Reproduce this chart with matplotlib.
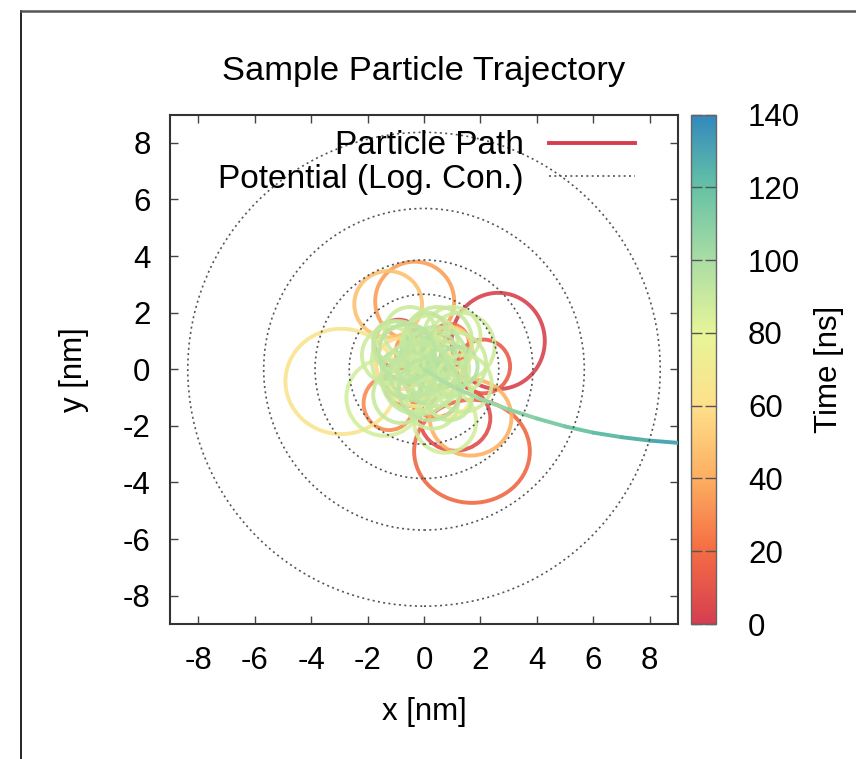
import numpy as np
import matplotlib
matplotlib.use("Agg")
import matplotlib.pyplot as plt
from matplotlib.colors import LinearSegmentedColormap, Normalize
from matplotlib.patches import Ellipse, Circle
from matplotlib.collections import LineCollection
from matplotlib.lines import Line2D
import matplotlib.cm as cm

plt.rcParams['font.family'] = ['Liberation Sans', 'DejaVu Sans']
plt.rcParams['font.size'] = 22.5
plt.rcParams['axes.unicode_minus'] = False

# palette of the colour bar (0 -> 140 ns)
palette = ['#d53e4f', '#f46d43', '#fdae61', '#fee08b',
           '#e6f598', '#abdda4', '#66c2a5', '#3288bd']
t_min, t_max = 0, 140

# loops of the path: time [ns], centre, half axes [nm]
loop_t = [2, 5, 7, 10, 13, 18, 22, 24, 27, 30, 33, 36, 42, 45, 48, 54, 58, 64, 68, 70, 74,
          86, 86.5, 87, 87.5, 88, 88.5, 89, 89.5, 90, 90.5, 91, 91.5, 92, 92.5, 93, 93.5,
          94, 94.3, 94.6, 94.9, 95.2, 95.5, 95.8, 96, 96.2, 96.4, 96.6, 96.8,
          87.2, 87.8, 88.2, 88.8, 89.2, 89.8, 90.2, 90.8, 91.2, 91.8, 92.2, 92.8, 93.2, 93.8, 94.5]
loop_cx = [2.63, -0.90, 1.10, 0.30, 2.10, 1.70, 0.90, -0.60, 0.40, -1.24, -0.20, -0.33, 1.65, 0.70, -1.27, 0.90, -0.80, -2.93, -0.30, 0.80, 0.20,
           -1.40, 0.75, 1.30, -0.60, 1.00, 0.20, -0.30, 0.60, -0.90, 0.00, 0.40, -0.40, 0.10, -0.20, 0.20, 0.90,
           -0.70, 0.50, -0.30, 0.00, -1.00, 0.30, -0.10, 0.70, -0.50, 1.20, -0.20, 0.30,
           1.40, -1.20, 0.30, -0.50, 1.10, -0.80, 0.50, -0.20, 0.90, -1.10, 0.00, 0.40, -0.40, 0.20, -0.60]
loop_cy = [1.00, 0.90, -1.73, 0.50, 0.10, -2.90, 0.90, -0.50, -0.80, -1.20, 0.60, 2.40, -1.70, 0.20, 2.30, 0.70, 0.20, -0.43, -0.40, -0.80, 0.50,
           -1.00, -1.85, 0.80, 0.30, 1.20, 0.90, -0.50, 0.00, 0.80, 0.40, -0.50, 0.10, 1.30, -0.10, 0.30, -0.30,
           -0.30, 0.70, 0.70, -0.60, 0.10, 0.10, 0.20, 0.40, -0.70, 0.10, 1.00, -0.20,
           -0.50, 0.50, -1.20, 1.30, 0.20, -0.90, 1.00, -0.30, -1.00, 1.00, 0.00, 0.40, -0.20, -0.70, 0.60]
loop_rx = [1.65, 0.85, 1.25, 0.80, 0.95, 2.05, 0.70, 0.80, 0.90, 0.90, 0.80, 1.40, 1.45, 0.80, 1.20, 0.80, 0.90, 1.98, 0.90, 0.90, 0.70,
           1.35, 1.10, 1.20, 1.25, 1.00, 1.00, 1.00, 1.00, 0.90, 0.70, 0.80, 0.60, 0.70, 0.40, 0.50, 0.60,
           0.70, 0.60, 0.50, 0.60, 0.50, 0.30, 0.20, 0.40, 0.40, 0.70, 0.40, 0.50,
           1.00, 1.00, 0.90, 0.90, 1.10, 1.00, 1.20, 1.30, 0.80, 0.70, 0.90, 1.10, 0.80, 1.10, 1.00]
loop_ry = [1.70, 0.85, 1.15, 0.80, 0.95, 1.82, 0.70, 0.80, 0.90, 0.95, 0.80, 1.40, 1.35, 0.80, 1.17, 0.80, 0.90, 1.86, 0.90, 0.90, 0.70,
           1.35, 1.10, 1.20, 1.25, 1.00, 1.00, 1.00, 1.00, 0.90, 0.70, 0.80, 0.60, 0.70, 0.40, 0.50, 0.60,
           0.70, 0.60, 0.50, 0.60, 0.50, 0.30, 0.20, 0.40, 0.40, 0.70, 0.40, 0.50,
           1.00, 1.00, 0.90, 0.90, 1.10, 1.00, 1.20, 1.30, 0.80, 0.70, 0.90, 1.10, 0.80, 1.10, 1.00]

# escape of the particle out of the trap
tail_x = [0.0, 0.6, 1.2, 2.0, 3.0, 4.0, 5.0, 6.0, 7.0, 8.0, 9.0]
tail_y = [0.0, -0.38, -0.70, -1.05, -1.42, -1.74, -2.02, -2.24, -2.40, -2.52, -2.60]
tail_t = [97, 98, 100, 103, 107, 111, 115, 119, 123, 127, 132]

# logarithmic contours of the potential
pot_r = [2.65, 3.86, 5.68, 8.37]

cmap = LinearSegmentedColormap.from_list('spectral8', palette)
norm = Normalize(t_min, t_max)

fig = plt.figure(figsize=(8.56, 7.59), dpi=100)
ax = fig.add_axes([170 / 856, 135 / 759, 508 / 856, 509.5 / 759])
cax = fig.add_axes([691 / 856, 135 / 759, 25 / 856, 509.5 / 759])

for t, cx, cy, rx, ry in zip(loop_t, loop_cx, loop_cy, loop_rx, loop_ry):
    ax.add_patch(Ellipse((cx, cy), 2 * rx, 2 * ry, fill=False, lw=2.8,
                         edgecolor=cmap(norm(t)), alpha=0.9, zorder=2))

pts = np.column_stack([tail_x, tail_y])
segs = np.stack([pts[:-1], pts[1:]], axis=1)
seg_t = (np.array(tail_t[:-1]) + np.array(tail_t[1:])) / 2
lc = LineCollection(segs, colors=cmap(norm(seg_t)), linewidths=2.8,
                    capstyle='round', zorder=3)
ax.add_collection(lc)

for r in pot_r:
    ax.add_patch(Circle((0, 0), r, fill=False, lw=1.2, edgecolor='#555555',
                        linestyle=(0, (1.2, 2.0)), zorder=4))

ax.set_xlim(-9, 9)
ax.set_ylim(-9, 9)
ax.set_xticks(range(-8, 9, 2))
ax.set_yticks(range(-8, 9, 2))
ax.tick_params(direction='in', top=True, right=True, length=6, width=1,
               color='#444444', pad=16)
ax.tick_params(axis='y', pad=14)
for sp in ax.spines.values():
    sp.set_linewidth(1.5)
    sp.set_color('#333333')

ax.set_xlabel('x [nm]', labelpad=15)
ax.set_ylabel('y [nm]', labelpad=24)
ax.set_title('Sample Particle Trajectory', pad=25, fontsize=24.8)

handles = [Line2D([], [], color=palette[0], lw=2.8),
           Line2D([], [], color='#555555', lw=1.2, linestyle=(0, (1.2, 2.0)))]
ax.legend(handles, ['Particle Path', 'Potential (Log. Con.)'], loc='upper right',
          frameon=False, markerfirst=False, handlelength=2.6, handletextpad=0.75,
          labelspacing=0.08, borderaxespad=0.3, borderpad=0.1, fontsize=24,
          bbox_to_anchor=(0.942, 0.995))

sm = cm.ScalarMappable(norm=norm, cmap=cmap)
cb = fig.colorbar(sm, cax=cax, ticks=range(0, 141, 20))
cb.outline.set_edgecolor('#666666')
cb.outline.set_linewidth(1)
cax.tick_params(direction='in', left=True, right=True, length=8, width=1,
                color='#555555', pad=23)
cb.set_label('Time [ns]', labelpad=10)

# frame around the picture
fig.add_artist(Line2D([21 / 856, 21 / 856], [0, 1 - 11 / 759], color='black', lw=1.2))
fig.add_artist(Line2D([21 / 856, 1], [1 - 11 / 759, 1 - 11 / 759], color='#555555', lw=1.8))

fig.savefig('out.png', dpi=100)
